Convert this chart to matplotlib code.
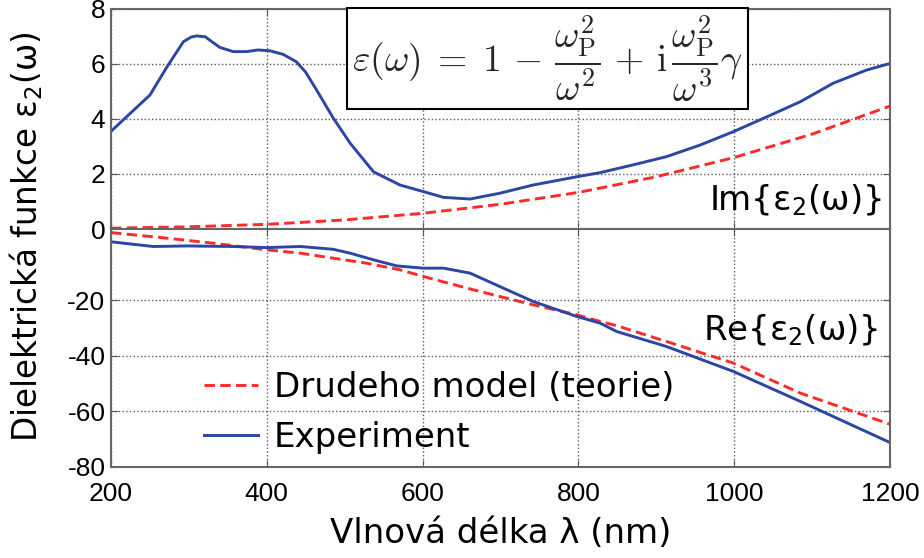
import matplotlib.pyplot as plt

plt.rcParams['axes.unicode_minus'] = False

# Wavelength samples (nm) and permittivity read per curve
wl_exp_im = [200, 220, 250, 272, 293, 303, 310, 321, 330, 340, 357, 374, 389, 404, 421,
             438, 450, 464, 485, 507, 537, 571, 601, 627, 661, 699, 742, 798, 828,
             870, 913, 956, 999, 1042, 1085, 1127, 1170, 1200]
im_exp = [3.55, 4.08, 4.87, 5.90, 6.81, 6.98, 7.02, 6.99, 6.80, 6.60, 6.45, 6.45, 6.51,
          6.48, 6.35, 6.08, 5.70, 5.05, 4.05, 3.12, 2.08, 1.60, 1.36, 1.15, 1.09, 1.30,
          1.60, 1.90, 2.05, 2.33, 2.63, 3.05, 3.54, 4.08, 4.63, 5.30, 5.78, 6.02]

wl_drude = [200, 300, 400, 500, 600, 700, 800, 900, 1000, 1100, 1200]
im_drude = [0.03, 0.08, 0.17, 0.33, 0.57, 0.90, 1.33, 1.90, 2.60, 3.45, 4.47]

wl_re_drude = [200, 272, 331, 400, 443, 485, 528, 571, 601, 657, 699, 742, 798, 828,
               849, 913, 999, 1085, 1200]
re_drude = [4.3, 2.3, 0.5, -1.9, -3.1, -4.9, -6.7, -9.1, -11.5, -15.7, -18.7, -21.7,
            -25.3, -27.7, -29.2, -34.9, -42.7, -53.5, -64.7]

wl_re_exp = [200, 254, 297, 357, 400, 443, 485, 507, 537, 567, 601, 627, 661, 699,
             742, 798, 828, 849, 913, 999, 1085, 1200]
re_exp = [1.0, -0.7, -0.5, -0.7, -1.1, -0.7, -1.7, -3.1, -5.5, -7.7, -8.5, -8.5, -10.3,
          -15.1, -20.5, -25.9, -28.3, -31.3, -36.7, -45.7, -56.5, -71.3]

x_ticks = [200, 400, 600, 800, 1000, 1200]
im_ticks = [0, 2, 4, 6, 8]
re_ticks = [-80, -60, -40, -20]

blue = '#2b46a3'
red = '#ff2a2a'
tick_font = 'Liberation Sans'

fig = plt.figure(figsize=(9.24, 5.58), dpi=100)
ax_im = fig.add_axes([0.1201, 0.5896, 0.8431, 0.3943])
ax_re = fig.add_axes([0.1201, 0.1636, 0.8431, 0.4260])

for ax in (ax_im, ax_re):
    ax.set_xlim(200, 1200)
    ax.set_xticks(x_ticks)
    ax.grid(True, linestyle=':', color='0.35', linewidth=1)
    ax.tick_params(direction='in', length=5, color='0.35', right=True, top=True,
                   labelsize=19, pad=4)
    ax.tick_params(axis='x', pad=11)
    for s in ax.spines.values():
        s.set_color('0.4')
        s.set_linewidth(1.5)

# upper panel: imaginary part
ax_im.plot(wl_drude, im_drude, color=red, lw=2.1, dashes=(3.6, 1.8))
ax_im.plot(wl_exp_im, im_exp, color=blue, lw=2.1)
ax_im.set_ylim(0, 8)
ax_im.set_yticks(im_ticks)
ax_im.tick_params(labelbottom=False)
ax_im.text(1190, 1.05, r'Im{ε$_2$(ω)}', ha='right', va='center', fontsize=24.5)
ax_im.text(0.5603, 0.775,
           r'$\varepsilon(\omega) \;=\; 1 \,-\, \dfrac{\omega_\mathrm{P}^2}{\omega^2}'
           r' \,+\, \mathrm{i}\,\dfrac{\omega_\mathrm{P}^2}{\omega^3}\gamma$',
           transform=ax_im.transAxes, ha='center', va='center', fontsize=27,
           math_fontfamily='cm', color='0.15', zorder=5,
           bbox=dict(boxstyle='square,pad=0.15', fc='white', ec='black', lw=1.5))

# lower panel: real part
ax_re.plot(wl_re_drude, re_drude, color=red, lw=2.1, dashes=(3.6, 1.8),
           label='Drudeho model (teorie)')
ax_re.plot(wl_re_exp, re_exp, color=blue, lw=2.1, label='Experiment')
ax_re.set_ylim(-80, 5.6)
ax_re.set_yticks(re_ticks)
ax_re.text(1185, -30.7, r'Re{ε$_2$(ω)}', ha='right', va='center', fontsize=24.5)
ax_re.set_xlabel('Vlnová délka λ (nm)', fontsize=24.5, labelpad=8)
ax_re.legend(loc='lower left', bbox_to_anchor=(0.08, -0.075), frameon=False, fontsize=24.5,
             handlelength=1.6, handletextpad=0.45, labelspacing=0.5)

for ax in (ax_im, ax_re):
    for lab in ax.get_xticklabels() + ax.get_yticklabels():
        lab.set_family(tick_font)

fig.text(0.028, 0.575, 'Dielektrická funkce ε$_2$(ω)', rotation=90, ha='center',
         va='center', fontsize=23.5)

fig.savefig('out.png', dpi=100)
